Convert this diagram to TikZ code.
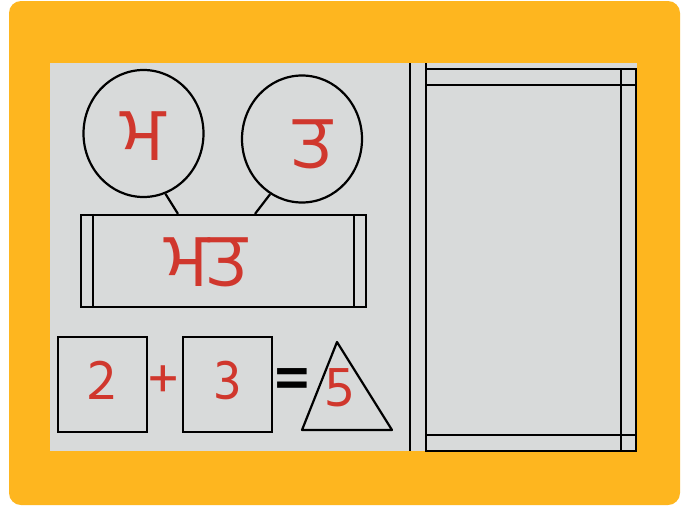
\documentclass[tikz,border=0pt]{standalone}
\usepackage{fontspec}
\usetikzlibrary{shapes.geometric}
\newfontfamily\gurmukhi[Script=Gurmukhi]{Hind Jalandhar}
\definecolor{board}{HTML}{FEB61F}
\definecolor{sheet}{HTML}{D8DADA}
\definecolor{marker}{HTML}{D0372D}
\tikzset{
  ink/.style={line width=2.2pt, black},
  letter/.style={text=marker, font=\gurmukhi\fontsize{76}{76}\selectfont, inner sep=0pt},
  digit/.style={text=marker, font=\gurmukhi\fontsize{58}{58}\selectfont, inner sep=0pt},
  bubble/.style={ink, draw, ellipse, minimum width=120pt, minimum height=127pt, inner sep=0pt},
  cell/.style={ink, draw, minimum width=89pt, minimum height=95pt, inner sep=0pt},
}
\begin{document}
\begin{tikzpicture}[x=1pt,y=-1pt]
\useasboundingbox (0,0) rectangle (691,509);
\fill[white] (0,0) rectangle (691,509);
\fill[board, rounded corners=12pt] (9,1) rectangle (680,505);
\fill[sheet] (50,63) rectangle (637,451);
% right frame
\draw[ink] (410,63) to (410,451);
\draw[ink] (426,63) to (426,451);
\draw[ink] (426,69) rectangle (636,451);
\draw[ink] (426,85) to (636,85);
\draw[ink] (426,435) to (636,435);
\draw[ink] (621,69) to (621,451);
% letters and word
\node[bubble] (ma) at (143.5,133.5) {};
\node[letter] (malbl) at (143,136) {ਮ};
\node[bubble] (ta) at (302,139) {};
\node[letter] (talbl) at (313,144) {ਤ};
\node[ink, draw, minimum width=285pt, minimum height=92pt, inner sep=0pt] (word) at (223.5,261) {};
\draw[ink] ([xshift=13pt]word.north west) to ([xshift=13pt]word.south west);
\draw[ink] ([xshift=-13pt]word.north east) to ([xshift=-13pt]word.south east);
\node[letter] (matlbl) at (206,262) {ਮਤ};
\draw[ink] (ma.-70) to ([xshift=-45.5pt]word.north);
\draw[ink] (ta.-120) to ([xshift=31.5pt]word.north);
% sum
\node[cell] (a) at (102.5,384.5) {};
\node[digit] (two) at (102,380) {2};
\node[digit] (plus) at (164,382) {+};
\node[cell] (b) at (227.5,384.5) {};
\node[digit] (three) at (228,380) {3};
\node[digit, text=black, font=\gurmukhi\bfseries\fontsize{62}{62}\selectfont] (eq) at (292,384) {=};
\coordinate (apex) at (337,342);
\coordinate (bl) at (302,430);
\coordinate (br) at (392,430);
\draw[ink, line join=round] (apex) to (bl) to (br) to cycle;
\node[digit] (five) at (339,388) {5};
\end{tikzpicture}
\end{document}
